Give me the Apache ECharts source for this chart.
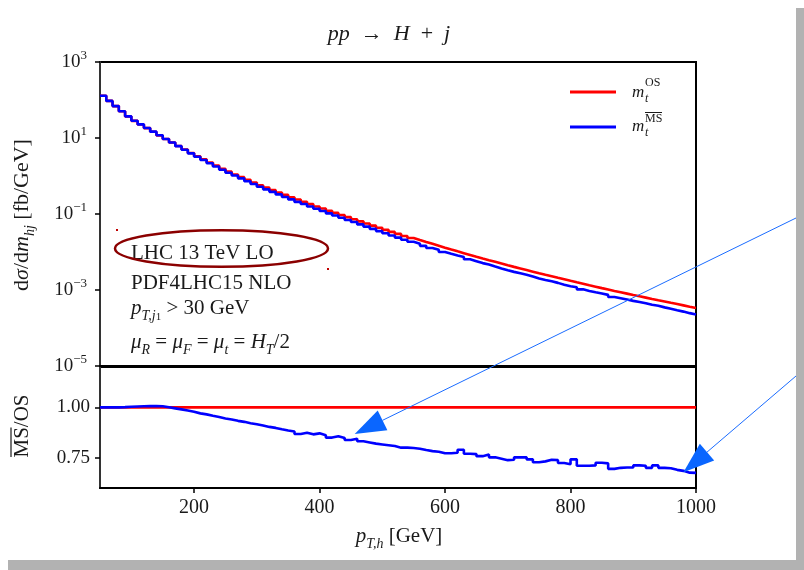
<!DOCTYPE html>
<html><head><meta charset="utf-8">
<script src="https://cdn.jsdelivr.net/npm/echarts@6.0.0/dist/echarts.min.js"></script>
<style>html,body{margin:0;padding:0;background:#fff}#c{width:804px;height:570px}</style>
</head><body><div id="c"></div>
<script>
// ---------- data ----------
const binEdges = [50,60,70,80,90,100,110,120,130,140,150,160,170,180,190,200,210,220,230,240,
  250,260,270,280,290,300,310,320,330,340,350,360,370,380,390,400,410,420,430,440,
  450,460,470,480,490,500,510,520,530,540,550,560,570,580,590,600,610,620,630,640,
  650,660,670,680,690,700,710,720,730,740,750,760,770,780,790,800,810,820,830,840,
  850,860,870,880,890,900,910,920,930,940,950,960,970,980,990,1000];
const osValues = [129, 94.6, 69.2, 50.6, 37.0, 28.3, 22.7, 18.2, 14.6, 11.7,
  9.42, 7.62, 6.17, 4.99, 4.04, 3.30, 2.74, 2.26, 1.87, 1.55,
  1.30, 1.10, 0.933, 0.791, 0.670, 0.573, 0.494, 0.427, 0.368, 0.318,
  0.275, 0.240, 0.209, 0.182, 0.158, 0.139, 0.122, 0.107, 0.0942, 0.0828,
  0.0728, 0.0640, 0.0562, 0.0494, 0.0435, 0.0383, 0.0338, 0.0299, 0.0264, 0.0233,
  0.0207, 0.0184, 0.0164, 0.0146, 0.0130, 0.0116, 0.0104, 0.00933, 0.00836, 0.00748,
  0.00673, 0.00608, 0.00550, 0.00497, 0.00449, 0.00406, 0.00369, 0.00335, 0.00304, 0.00276,
  0.00251, 0.00229, 0.00209, 0.00191, 0.00174, 0.00159, 0.00146, 0.00133, 0.00122, 0.00112,
  0.00103, 0.000946, 0.000871, 0.000802, 0.000738, 0.000681, 0.000630, 0.000582, 0.000538, 0.000498,
  0.000460, 0.000426, 0.000394, 0.000364, 0.000337];
const msValues = [129, 94.6, 69.2, 50.7, 37.1, 28.4, 22.8, 18.3, 14.7, 11.8,
  9.42, 7.58, 6.11, 4.91, 3.95, 3.20, 2.64, 2.17, 1.78, 1.46,
  1.22, 1.03, 0.866, 0.729, 0.614, 0.521, 0.446, 0.383, 0.328, 0.281,
  0.242, 0.208, 0.183, 0.158, 0.138, 0.120, 0.104, 0.0917, 0.0799, 0.0694,
  0.0614, 0.0532, 0.0464, 0.0405, 0.0355, 0.0311, 0.0273, 0.0239, 0.0211, 0.0186,
  0.0165, 0.0145, 0.0128, 0.0114, 0.0100, 0.00896, 0.00806, 0.00737, 0.00644, 0.00574,
  0.00510, 0.00466, 0.00414, 0.00370, 0.00331, 0.00300, 0.00277, 0.00252, 0.00226, 0.00201,
  0.00184, 0.00169, 0.00154, 0.00138, 0.00125, 0.00118, 0.00104, 0.000944, 0.000869, 0.000812,
  0.000744, 0.000657, 0.000610, 0.000563, 0.000518, 0.000485, 0.000447, 0.000407, 0.000383, 0.000349,
  0.000321, 0.000294, 0.000270, 0.000246, 0.000227];
const msOverOs = [1.000, 1.000, 1.000, 1.001, 1.003, 1.004, 1.005, 1.006, 1.006, 1.005,
  1.000, 0.995, 0.990, 0.984, 0.978, 0.970, 0.965, 0.958, 0.952, 0.945,
  0.940, 0.933, 0.928, 0.921, 0.916, 0.910, 0.903, 0.898, 0.891, 0.885,
  0.880, 0.868, 0.874, 0.866, 0.871, 0.862, 0.850, 0.857, 0.848, 0.838,
  0.844, 0.832, 0.826, 0.820, 0.816, 0.812, 0.808, 0.800, 0.800, 0.798,
  0.795, 0.788, 0.783, 0.780, 0.772, 0.772, 0.775, 0.790, 0.770, 0.768,
  0.758, 0.766, 0.752, 0.745, 0.738, 0.740, 0.752, 0.752, 0.742, 0.728,
  0.732, 0.740, 0.738, 0.724, 0.718, 0.742, 0.710, 0.710, 0.712, 0.725,
  0.722, 0.695, 0.700, 0.702, 0.702, 0.712, 0.710, 0.700, 0.712, 0.700,
  0.698, 0.690, 0.685, 0.676, 0.675];
const osRefEdges = [50, 1000];
const osOverOs = [1.0, 1.0];
const xTicks = [200, 400, 600, 800, 1000];
const logTicks = [1e3, 1e1, 1e-1, 1e-3, 1e-5];
const ratioTicks = [0.75, 1.00];
const arrowTargets = [[456, 0.868], [980, 0.678]];

// ---------- helpers ----------
const F = '"Liberation Serif", "DejaVu Serif", serif';
const INK = '#1a1a1a';
function stepData(edges, vals) {
  const d = vals.map((v, i) => [edges[i], v]);
  d.push([edges[vals.length], vals[vals.length - 1]]);
  return d;
}
function lineData(edges, vals) { return vals.map((v, i) => [edges[i], v]); }
function mathRich(size, subSize, lh) {
  return {
    n: { fontSize: size, fontFamily: F, lineHeight: lh, fill: INK, color: INK },
    i: { fontSize: size, fontFamily: F, fontStyle: 'italic', lineHeight: lh, fill: INK, color: INK },
    sub: { fontSize: subSize, fontFamily: F, fontStyle: 'italic', lineHeight: subSize, verticalAlign: 'bottom', fill: INK, color: INK },
    ss: { fontSize: Math.round(subSize * 0.75), fontFamily: F, lineHeight: Math.round(subSize * 0.75), verticalAlign: 'bottom', fill: INK, color: INK }
  };
}
function txt(x, y, text, rich, align) {
  return { type: 'text', x: x, y: y, z: 50,
    style: { text: text, rich: rich, fill: INK, font: '20px ' + F,
      align: align || 'left', textAlign: align || 'left',
      verticalAlign: 'middle', textVerticalAlign: 'middle' } };
}
function plain(x, y, text, size, italic, align) {
  return { type: 'text', x: x, y: y, z: 50,
    style: { text: text, fill: INK, font: (italic ? 'italic ' : '') + size + 'px ' + F,
      align: align || 'left', textAlign: align || 'left',
      verticalAlign: 'middle', textVerticalAlign: 'middle' } };
}
function supLabel(v) {
  const e = Math.round(Math.log10(v));
  return '{b|10}{e|' + (e < 0 ? '\u2212' + (-e) : e) + '}';
}

const chart = echarts.init(document.getElementById('c'), null, { renderer: 'canvas' });
const axisLineStyle = { show: true, lineStyle: { color: '#000', width: 2 } };
const tickStyle = { show: true, inside: false, length: 5, lineStyle: { color: '#000', width: 1.5 } };

const option = {
  animation: false,
  backgroundColor: '#ffffff',
  grid: [
    { left: 100, top: 62, width: 596, height: 304, show: true, borderColor: '#000', borderWidth: 2, backgroundColor: 'transparent', outerBoundsMode: 'none', containLabel: false },
    { left: 100, top: 367, width: 596, height: 121, show: true, borderColor: '#000', borderWidth: 2, backgroundColor: 'transparent', outerBoundsMode: 'none', containLabel: false }
  ],
  xAxis: [
    { type: 'value', gridIndex: 0, min: 50, max: 1000, axisLine: axisLineStyle,
      axisTick: { show: false }, axisLabel: { show: false }, splitLine: { show: false } },
    { type: 'value', gridIndex: 1, min: 50, max: 1000, axisLine: axisLineStyle,
      axisTick: Object.assign({ customValues: xTicks }, tickStyle),
      axisLabel: { customValues: xTicks, margin: 10, fontSize: 20, fontFamily: F, color: INK,
        formatter: v => String(Math.round(v)) },
      splitLine: { show: false } }
  ],
  yAxis: [
    { type: 'log', logBase: 10, gridIndex: 0, min: 1e-5, max: 1e3,
      axisLine: { show: true, lineStyle: { color: '#333', width: 2 } },
      axisTick: Object.assign({ customValues: logTicks }, tickStyle),
      axisLabel: { customValues: logTicks, margin: 13, formatter: supLabel,
        rich: { b: { fontSize: 19, fontFamily: F, lineHeight: 26, color: INK },
                e: { fontSize: 13, fontFamily: F, lineHeight: 13, verticalAlign: 'top', color: INK } } },
      splitLine: { show: false }, minorTick: { show: false } },
    { type: 'value', gridIndex: 1, min: 0.6, max: 1.2,
      axisLine: { show: true, lineStyle: { color: '#333', width: 2 } },
      axisTick: Object.assign({ customValues: ratioTicks }, tickStyle),
      axisLabel: { customValues: ratioTicks, margin: 10, fontSize: 19, fontFamily: F, color: INK,
        formatter: v => v.toFixed(2) },
      splitLine: { show: false } }
  ],
  series: [
    { name: 'OS', type: 'line', xAxisIndex: 0, yAxisIndex: 0, step: 'end', showSymbol: false, symbol: 'none',
      data: stepData(binEdges, osValues), lineStyle: { color: '#ff0000', width: 2.6 }, z: 3 },
    { name: 'MS', type: 'line', xAxisIndex: 0, yAxisIndex: 0, step: 'end', showSymbol: false, symbol: 'none',
      data: stepData(binEdges, msValues), lineStyle: { color: '#0000ff', width: 2.6 }, z: 4 },
    { name: 'OSratio', type: 'line', xAxisIndex: 1, yAxisIndex: 1, showSymbol: false, symbol: 'none',
      data: lineData(osRefEdges, osOverOs), lineStyle: { color: '#ff0000', width: 2.6 }, z: 3 },
    { name: 'MSratio', type: 'line', xAxisIndex: 1, yAxisIndex: 1, step: 'end', showSymbol: false, symbol: 'none',
      data: stepData(binEdges, msOverOs), lineStyle: { color: '#0000ff', width: 2.6 }, z: 4 }
  ]
};
chart.setOption(option);

// ---------- annotations ----------
const R21 = mathRich(21, 14, 30);
const R22 = mathRich(22, 14, 30);
const g = [];
// drop shadow border
g.push({ type: 'rect', shape: { x: 796, y: 8, width: 8, height: 562 }, style: { fill: '#b2b2b2' }, z: 100 });
g.push({ type: 'rect', shape: { x: 8, y: 560, width: 796, height: 10 }, style: { fill: '#b2b2b2' }, z: 100 });
// title
g.push(txt(389, 34, '{i|pp}{n|  \u2192  }{i|H}{n|  +  }{i|j}', R22, 'center'));
// x label
g.push(txt(399, 536, '{i|p}{sub|T,h}{n| [GeV]}', R21, 'center'));
// y label upper (rotated)
g.push({ type: 'group', x: 22, y: 215, rotation: Math.PI / 2, z: 50, children: [
  txt(0, 0, '{n|d}{i|\u03c3}{n|/d}{i|m}{sub|hj}{n| [fb/GeV]}', R22, 'center') ] });
// y label lower (rotated) with overline
g.push({ type: 'group', x: 22, y: 426, rotation: Math.PI / 2, z: 50, children: [
  plain(0, 0, 'MS/OS', 21, false, 'center'),
  { type: 'line', shape: { x1: -31, y1: -11, x2: -1.5, y2: -11 }, style: { stroke: INK, lineWidth: 1.2 } } ] });
// legend
g.push({ type: 'line', shape: { x1: 570, y1: 92, x2: 616, y2: 92 }, style: { stroke: '#ff0000', lineWidth: 3 }, z: 50 });
g.push({ type: 'line', shape: { x1: 570, y1: 127, x2: 616, y2: 127 }, style: { stroke: '#0000ff', lineWidth: 3 }, z: 50 });
g.push(plain(632, 93, 'm', 17, true));
g.push(plain(645, 83, 'OS', 12, false));
g.push(plain(645, 99, 't', 12, true));
g.push(plain(632, 127, 'm', 17, true));
g.push(plain(645, 119, 'MS', 12, false));
g.push({ type: 'line', shape: { x1: 645, y1: 112.5, x2: 662, y2: 112.5 }, style: { stroke: INK, lineWidth: 1 }, z: 50 });
g.push(plain(645, 133, 't', 12, true));
// info text block
g.push(txt(131, 253, '{n|LHC 13 TeV LO}', R21));
g.push(txt(131, 283, '{n|PDF4LHC15 NLO}', R21));
g.push(txt(131, 308, '{i|p}{sub|T,j}{ss|1}{n| > 30 GeV}', R21));
g.push(txt(131, 342, '{i|\u03bc}{sub|R}{n| = }{i|\u03bc}{sub|F}{n| = }{i|\u03bc}{sub|t}{n| = }{i|H}{sub|T}{n|/2}', R21));
// ellipse highlight
g.push({ type: 'ellipse', shape: { cx: 221.5, cy: 248.5, rx: 106.5, ry: 18.3 },
  style: { fill: 'none', stroke: '#8b0000', lineWidth: 2.5 }, z: 60 });
g.push({ type: 'rect', shape: { x: 116, y: 229, width: 2, height: 2 }, style: { fill: '#c00000' }, z: 60 });
g.push({ type: 'rect', shape: { x: 327, y: 268, width: 2, height: 2 }, style: { fill: '#c00000' }, z: 60 });
// arrows
const starts = [[796, 218], [796, 376]];
arrowTargets.forEach((t, k) => {
  const tip = chart.convertToPixel({ xAxisIndex: 1, yAxisIndex: 1 }, t);
  const s = starts[k];
  const dx = s[0] - tip[0], dy = s[1] - tip[1];
  const L = Math.sqrt(dx * dx + dy * dy);
  const ux = dx / L, uy = dy / L;
  const bx = tip[0] + 31 * ux, by = tip[1] + 31 * uy;
  const px = -uy, py = ux;
  g.push({ type: 'line', shape: { x1: s[0], y1: s[1], x2: bx, y2: by }, style: { stroke: '#1a6cff', lineWidth: 1 }, z: 70 });
  g.push({ type: 'polygon', shape: { points: [[tip[0], tip[1]], [bx + 11 * px, by + 11 * py], [bx - 11 * px, by - 11 * py]] },
    style: { fill: '#0a66ff' }, z: 70 });
});
chart.setOption({ graphic: g });
</script></body></html>
